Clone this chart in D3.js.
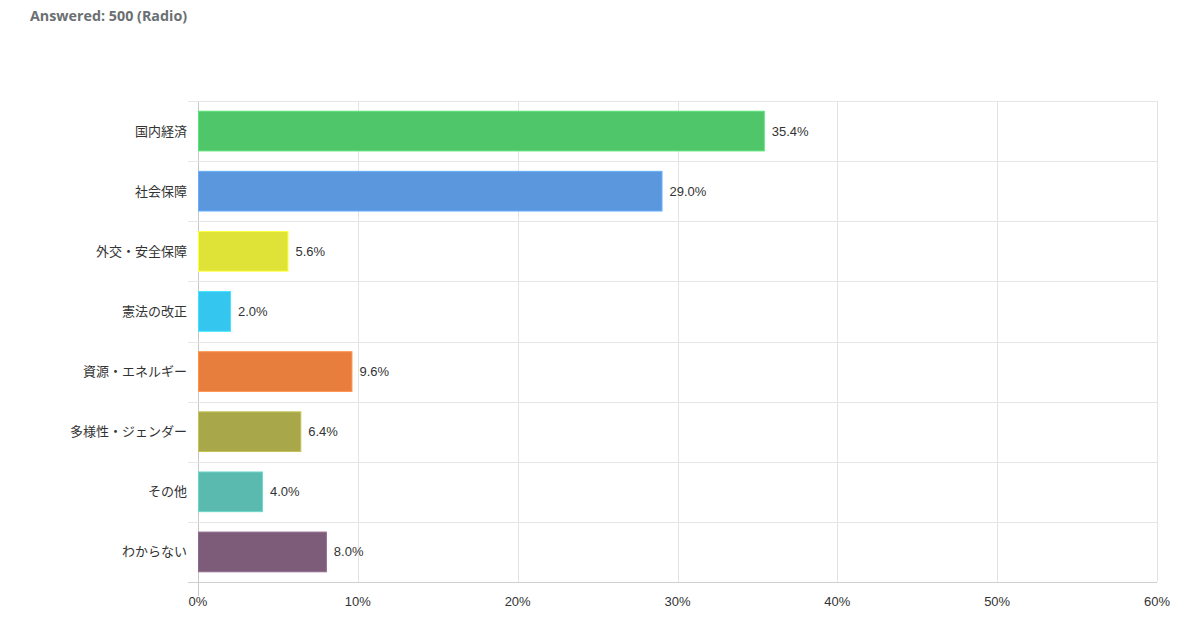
<!DOCTYPE html>
<html>
<head>
<meta charset="utf-8">
<script src="https://cdn.jsdelivr.net/npm/d3@7"></script>
<style>
  body { margin: 0; background: #fff; font-family: "Noto Sans CJK JP", "Open Sans", sans-serif; }
  .title { position: absolute; left: 30px; top: 6px; font-family: "Open Sans", sans-serif; font-weight: bold; font-size: 14.3px; color: #6b6f73; }
</style>
</head>
<body>
<div class="title">Answered: 500 (Radio)</div>
<div id="container"></div>
<script>
const categories = ["国内経済", "社会保障", "外交・安全保障", "憲法の改正", "資源・エネルギー", "多様性・ジェンダー", "その他", "わからない"];
const values = [35.4, 29.0, 5.6, 2.0, 9.6, 6.4, 4.0, 8.0];
const colors = ["#4fc66a", "#5b97dc", "#e0e337", "#35c6f0", "#e87e3e", "#a8a84a", "#5bbab0", "#7d5c7a"];
const xTicks = [0, 10, 20, 30, 40, 50, 60];

const width = 1194, height = 633;
const plotLeft = 198, plotRight = 1157, plotTop = 101, plotBottom = 582;

const svg = d3.select("#container").append("svg")
  .attr("width", width).attr("height", height)
  .style("display", "block")
  .style("font-family", "'Noto Sans CJK JP', sans-serif");

const xScale = d3.scaleLinear().domain([0, 60]).range([plotLeft, plotRight]);
const yScale = d3.scaleBand().domain(categories).range([plotTop, plotBottom]).paddingInner(0.34).paddingOuter(0.17);
const rowScale = d3.scaleBand().domain(categories).range([plotTop, plotBottom]);

// vertical grid
svg.append("g").selectAll("line").data(xTicks).enter().append("line")
  .attr("x1", d => Math.round(xScale(d)) + 0.5).attr("x2", d => Math.round(xScale(d)) + 0.5)
  .attr("y1", plotTop).attr("y2", d => d === 0 ? plotBottom + 14 : plotBottom)
  .attr("stroke", d => d === 0 ? "#c8c8c8" : "#e3e3e3");

// horizontal row lines
const rowLines = categories.map(c => rowScale(c)).concat([plotBottom]);
svg.append("g").selectAll("line").data(rowLines).enter().append("line")
  .attr("x1", plotLeft - 10).attr("x2", plotRight)
  .attr("y1", d => Math.round(d) + 0.5).attr("y2", d => Math.round(d) + 0.5)
  .attr("stroke", (d, i) => i === rowLines.length - 1 ? "#d0d0d0" : "#e6e6e6");

// bars
svg.append("g").selectAll("rect").data(values).enter().append("rect")
  .attr("x", xScale(0) + 0.5)
  .attr("y", (d, i) => yScale(categories[i]))
  .attr("width", d => xScale(d) - xScale(0))
  .attr("height", yScale.bandwidth())
  .attr("fill", (d, i) => colors[i])
  .attr("stroke", (d, i) => d3.color(colors[i]).brighter(0.4))
  .attr("stroke-width", 1);

// value labels
svg.append("g").selectAll("text").data(values).enter().append("text")
  .attr("x", d => xScale(d) + 8)
  .attr("y", (d, i) => yScale(categories[i]) + yScale.bandwidth() / 2)
  .attr("dy", "0.35em")
  .attr("font-size", 13).attr("fill", "#333")
  .attr("font-family", "'Liberation Sans', Arial, sans-serif")
  .text(d => d.toFixed(1) + "%");

// category labels
svg.append("g").selectAll("text").data(categories).enter().append("text")
  .attr("x", plotLeft - 11)
  .attr("y", d => rowScale(d) + rowScale.bandwidth() / 2)
  .attr("dy", "0.35em")
  .attr("text-anchor", "end")
  .attr("font-size", 13).attr("fill", "#333")
  .text(d => d);

// x axis labels
svg.append("g").selectAll("text").data(xTicks).enter().append("text")
  .attr("x", d => xScale(d))
  .attr("y", plotBottom + 24)
  .attr("text-anchor", "middle")
  .attr("font-size", 13).attr("fill", "#333")
  .attr("font-family", "'Liberation Sans', Arial, sans-serif")
  .text(d => d + "%");
</script>
</body>
</html>
